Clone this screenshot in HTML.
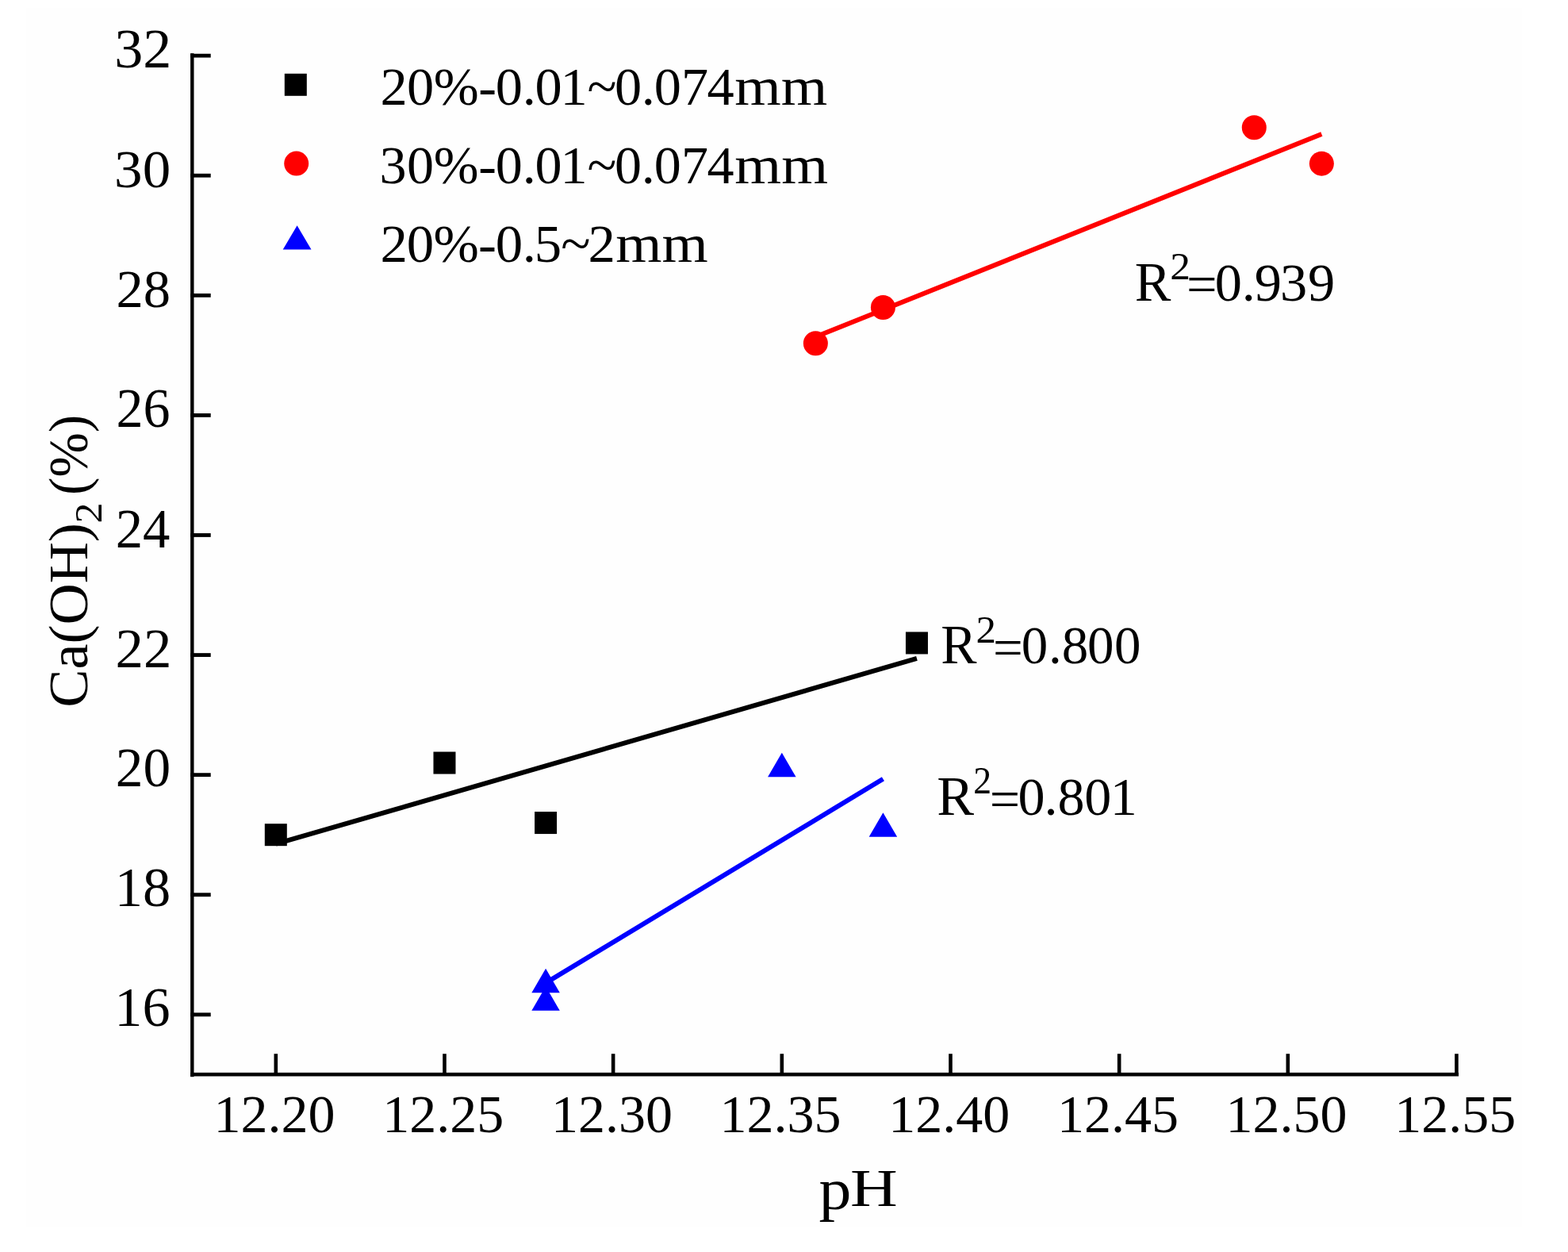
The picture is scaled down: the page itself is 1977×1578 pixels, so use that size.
<!DOCTYPE html>
<html><head><meta charset="utf-8"><title>Ca(OH)2 vs pH</title>
<style>html,body{margin:0;padding:0;background:#fff;}svg{display:block;}
text{font-family:"Liberation Serif","Times New Roman",serif;fill:#000;}</style></head>
<body>
<svg width="1977" height="1578" viewBox="0 0 1977 1578">
<rect width="1977" height="1578" fill="#fff"/>
<rect x="33" y="10" width="1886" height="1536" fill="#fefefe"/>
<rect x="240.1" y="67.2" width="4.4" height="1290" fill="#000"/>
<rect x="240.1" y="1351.9" width="1599" height="4.6" fill="#000"/>
<rect x="240.1" y="1276.40" width="25.6" height="4.8" fill="#000"/>
<rect x="240.1" y="1125.32" width="25.6" height="4.8" fill="#000"/>
<rect x="240.1" y="974.24" width="25.6" height="4.8" fill="#000"/>
<rect x="240.1" y="823.16" width="25.6" height="4.8" fill="#000"/>
<rect x="240.1" y="672.08" width="25.6" height="4.8" fill="#000"/>
<rect x="240.1" y="521.00" width="25.6" height="4.8" fill="#000"/>
<rect x="240.1" y="369.92" width="25.6" height="4.8" fill="#000"/>
<rect x="240.1" y="218.84" width="25.6" height="4.8" fill="#000"/>
<rect x="240.1" y="67.76" width="25.6" height="4.8" fill="#000"/>
<rect x="345.50" y="1328.2" width="4.6" height="26" fill="#000"/>
<rect x="558.17" y="1328.2" width="4.6" height="26" fill="#000"/>
<rect x="770.84" y="1328.2" width="4.6" height="26" fill="#000"/>
<rect x="983.51" y="1328.2" width="4.6" height="26" fill="#000"/>
<rect x="1196.18" y="1328.2" width="4.6" height="26" fill="#000"/>
<rect x="1408.85" y="1328.2" width="4.6" height="26" fill="#000"/>
<rect x="1621.52" y="1328.2" width="4.6" height="26" fill="#000"/>
<rect x="1834.19" y="1328.2" width="4.6" height="26" fill="#000"/>
<line x1="347.80" y1="1063.74" x2="1155.95" y2="829.96" stroke="#000" stroke-width="6.0"/>
<line x1="1028.34" y1="424.50" x2="1666.35" y2="169.06" stroke="#f00" stroke-width="6.0"/>
<line x1="688.07" y1="1238.89" x2="1113.41" y2="981.76" stroke="#00f" stroke-width="6.0"/>
<rect x="333.80" y="1038.18" width="28" height="28" fill="#000"/>
<rect x="546.47" y="947.53" width="28" height="28" fill="#000"/>
<rect x="674.07" y="1023.07" width="28" height="28" fill="#000"/>
<rect x="1141.95" y="796.45" width="28" height="28" fill="#000"/>
<circle cx="1028.34" cy="432.75" r="15.5" fill="#f00"/>
<circle cx="1113.41" cy="387.43" r="15.5" fill="#f00"/>
<circle cx="1581.29" cy="160.81" r="15.5" fill="#f00"/>
<circle cx="1666.35" cy="206.13" r="15.5" fill="#f00"/>
<polygon points="688.07,1220.70 705.82,1251.20 670.32,1251.20" fill="#00f"/>
<polygon points="688.07,1243.36 705.82,1273.86 670.32,1273.86" fill="#00f"/>
<polygon points="985.81,948.75 1003.56,979.25 968.06,979.25" fill="#00f"/>
<polygon points="1113.41,1024.29 1131.16,1054.79 1095.66,1054.79" fill="#00f"/>
<rect x="358.80" y="92.80" width="28" height="28" fill="#000"/>
<circle cx="373.70" cy="206.10" r="15.5" fill="#f00"/>
<polygon points="374.6,284.3 392.5,314.6 356.7,314.6" fill="#00f"/>
<text transform="translate(144.29 1293.30) scale(1.0181 1.0000)" font-size="69">16</text>
<text transform="translate(144.67 1142.22) scale(1.0216 0.9957)" font-size="69">18</text>
<text transform="translate(145.68 991.14) scale(1.0063 0.9957)" font-size="69">20</text>
<text transform="translate(145.62 840.76) scale(1.0257 1.0153)" font-size="69">22</text>
<text transform="translate(145.71 689.68) scale(0.9954 1.0153)" font-size="69">24</text>
<text transform="translate(146.54 537.90) scale(0.9859 1.0000)" font-size="69">26</text>
<text transform="translate(146.52 386.82) scale(0.9937 0.9957)" font-size="69">28</text>
<text transform="translate(144.10 235.74) scale(1.0301 0.9957)" font-size="69">30</text>
<text transform="translate(144.36 84.66) scale(1.0436 1.0000)" font-size="69">32</text>
<text transform="translate(269.59 1427.03) scale(0.9857 0.9680)" font-size="69">12.20</text>
<text transform="translate(482.26 1427.03) scale(0.9857 0.9722)" font-size="69">12.25</text>
<text transform="translate(694.93 1427.03) scale(0.9857 0.9680)" font-size="69">12.30</text>
<text transform="translate(907.60 1427.03) scale(0.9857 0.9722)" font-size="69">12.35</text>
<text transform="translate(1120.27 1427.03) scale(0.9857 0.9680)" font-size="69">12.40</text>
<text transform="translate(1332.94 1427.03) scale(0.9857 0.9722)" font-size="69">12.45</text>
<text transform="translate(1545.61 1427.03) scale(0.9857 0.9680)" font-size="69">12.50</text>
<text transform="translate(1758.28 1427.03) scale(0.9857 0.9722)" font-size="69">12.55</text>
<text transform="translate(1430.64 379.00) scale(0.9776 1.0000)" font-size="70">R</text>
<text transform="translate(1475.37 351.80) scale(1.0615 1.0000)" font-size="48.5">2</text>
<text transform="translate(1186.26 836.20) scale(0.9686 1.0000)" font-size="70">R</text>
<text transform="translate(1230.49 810.00) scale(1.0513 1.0000)" font-size="48.5">2</text>
<text transform="translate(1181.20 1027.00) scale(1.0022 1.0000)" font-size="70">R</text>
<text transform="translate(1227.22 1000.00) scale(0.9436 1.0000)" font-size="48.5">2</text>
<text transform="translate(1032.50 1523.93) scale(1.1857 1.0657)" font-size="69">p</text>
<text transform="translate(1072.00 1520.30) scale(1.1987 0.9889)" font-size="69">H</text>
<text transform="translate(926.35 132.20) scale(1.1055 1.0000)" font-size="68">mm</text>
<text transform="translate(926.34 230.50) scale(1.1133 1.0000)" font-size="68">mm</text>
<text transform="translate(776.36 329.80) scale(1.1016 1.0000)" font-size="68">mm</text>
<text transform="translate(110.00 891.79) rotate(-90) scale(1.0323 1)" font-size="70">Ca(OH)</text>
<text transform="translate(128.30 659.53) rotate(-90) scale(1.0612 1)" font-size="49">2</text>
<text transform="translate(110.00 623.99) rotate(-90) scale(0.9646 1)" font-size="70">(%)</text>
<text transform="translate(0 132.20) scale(1.0054 1)" x="477.00 510.17 543.83 599.97 621.47 655.24 670.96 702.78 736.40 770.87 804.34 820.41 854.27 886.65" font-size="68">20%-0.01~0.074</text>
<text transform="translate(0 230.50) scale(1.0013 1)" x="477.94 512.29 546.13 602.43 624.04 657.91 673.73 705.68 739.44 774.04 807.61 823.77 857.78 890.29" font-size="68">30%-0.01~0.074</text>
<text transform="translate(0 329.80) scale(1.0124 1)" x="473.57 506.51 539.85 595.72 617.03 650.67 665.48 698.56 732.51" font-size="68">20%-0.5~2</text>
<text transform="translate(0 379.00) scale(1.0065 1)" x="1486.30 1521.93 1555.72 1571.46 1603.60 1638.33" dy="1.5 -1.5" font-size="68">=0.939</text>
<text transform="translate(0 836.20) scale(0.9851 1)" x="1270.87 1307.23 1341.97 1358.99 1391.73 1426.19" dy="3 -3" font-size="68">=0.800</text>
<text transform="translate(0 1027.00) scale(1.0013 1)" x="1246.11 1281.92 1314.83 1331.80 1365.41 1398.01" dy="3 -3" font-size="68">=0.801</text>
</svg>
</body></html>
